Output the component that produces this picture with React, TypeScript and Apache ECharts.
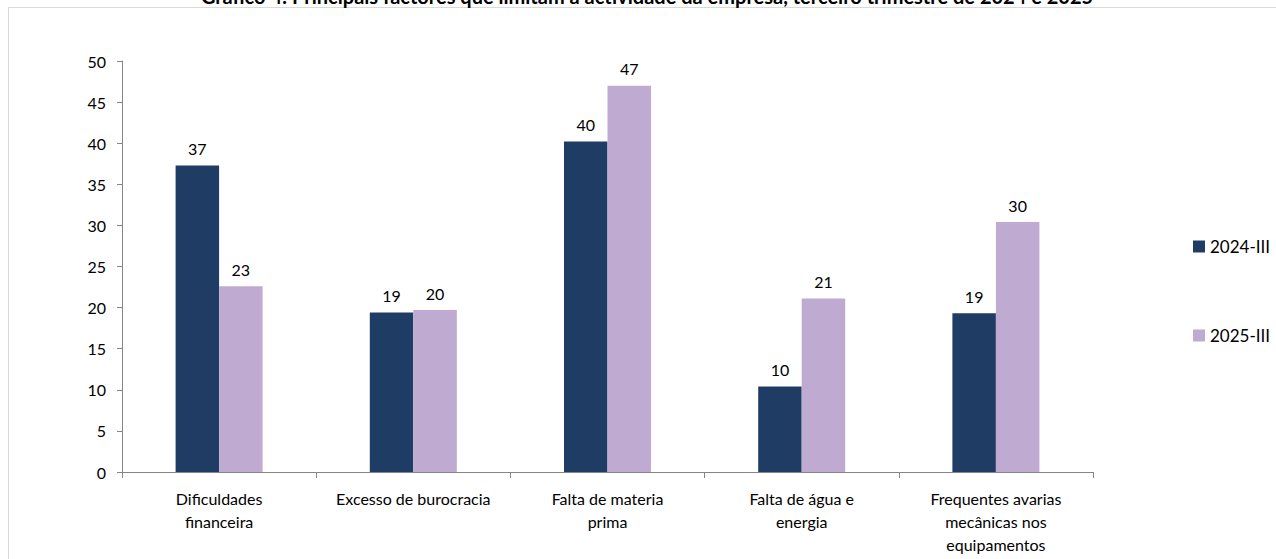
import React, { useEffect, useRef } from "react";
import * as echarts from "echarts";

const categories = [
  "Dificuldades\nfinanceira",
  "Excesso de burocracia",
  "Falta de materia\nprima",
  "Falta de água e\nenergia",
  "Frequentes avarias\nmecânicas nos\nequipamentos",
];
const series2024 = [37.3, 19.4, 40.2, 10.4, 19.3];
const series2025 = [22.6, 19.7, 47.0, 21.1, 30.4];
const seriesNames = ["2024-III", "2025-III"];
const yTicks = { min: 0, max: 50, interval: 5 };
const titleText =
  "Gráfico 4: Principais factores que limitam a actividade da empresa, terceiro trimestre de 2024 e 2025";

const FONT = "Lato, 'Open Sans', sans-serif";

export default function App() {
  const ref = useRef<HTMLDivElement>(null);
  useEffect(() => {
    if (!ref.current) return;
    const chart = echarts.init(ref.current, undefined, { renderer: "svg" });
    const label = {
      show: true,
      position: "top",
      distance: 9,
      fontSize: 16,
      color: "#000",
      fontFamily: FONT,
      formatter: (p: any) => String(Math.round(p.value)),
    };
    chart.setOption({
      animation: false,
      backgroundColor: "transparent",
      textStyle: { fontFamily: FONT },
      graphic: [
        {
          type: "text",
          x: 647,
          y: -14,
          style: {
            text: titleText,
            fontSize: 20,
            fontWeight: "bold",
            fontFamily: FONT,
            fill: "#000",
            textAlign: "center",
            textVerticalAlign: "top",
          },
          silent: true,
        },
      ],
      legend: {
        orient: "vertical",
        left: 1193,
        top: 238,
        padding: 0,
        itemWidth: 12,
        itemHeight: 12,
        itemGap: 72,
        icon: "rect",
        textStyle: { fontSize: 17, color: "#000", fontFamily: FONT },
        data: seriesNames,
      },
      grid: { left: 122, right: 183, top: 61, bottom: 87, containLabel: false },
      xAxis: {
        type: "category",
        data: categories,
        boundaryGap: true,
        axisLine: { lineStyle: { color: "#868686", width: 1 } },
        axisTick: { show: true, length: 6, lineStyle: { color: "#868686" }, alignWithLabel: false },
        axisLabel: {
          interval: 0,
          margin: 15,
          fontSize: 16,
          lineHeight: 23,
          color: "#000",
          fontFamily: FONT,
        },
      },
      yAxis: {
        type: "value",
        min: yTicks.min,
        max: yTicks.max,
        interval: yTicks.interval,
        splitLine: { show: false },
        axisLine: { show: true, lineStyle: { color: "#868686", width: 1 } },
        axisTick: { show: true, length: 5, lineStyle: { color: "#868686" } },
        axisLabel: { margin: 16, fontSize: 16, color: "#000", fontFamily: FONT },
      },
      series: [
        {
          name: seriesNames[0],
          type: "bar",
          data: series2024,
          barWidth: "22.4%",
          barGap: "0%",
          itemStyle: { color: "#1F3D64" },
          label,
        },
        {
          name: seriesNames[1],
          type: "bar",
          data: series2025,
          barWidth: "22.4%",
          barGap: "0%",
          itemStyle: { color: "#BFABD2" },
          label,
        },
      ],
    });
    return () => chart.dispose();
  }, []);
  return (
    <div
      style={{
        position: "fixed",
        left: 0,
        top: 0,
        width: 1276,
        height: 559,
        overflow: "hidden",
        background: "#fff",
      }}
    >
      <div
        style={{
          position: "absolute",
          left: 8,
          top: 7,
          width: 1400,
          height: 700,
          border: "1px solid #d9d9d9",
          boxSizing: "border-box",
        }}
      />
      <div
        ref={ref}
        style={{ position: "absolute", left: 0, top: 0, width: 1276, height: 559 }}
      />
    </div>
  );
}
